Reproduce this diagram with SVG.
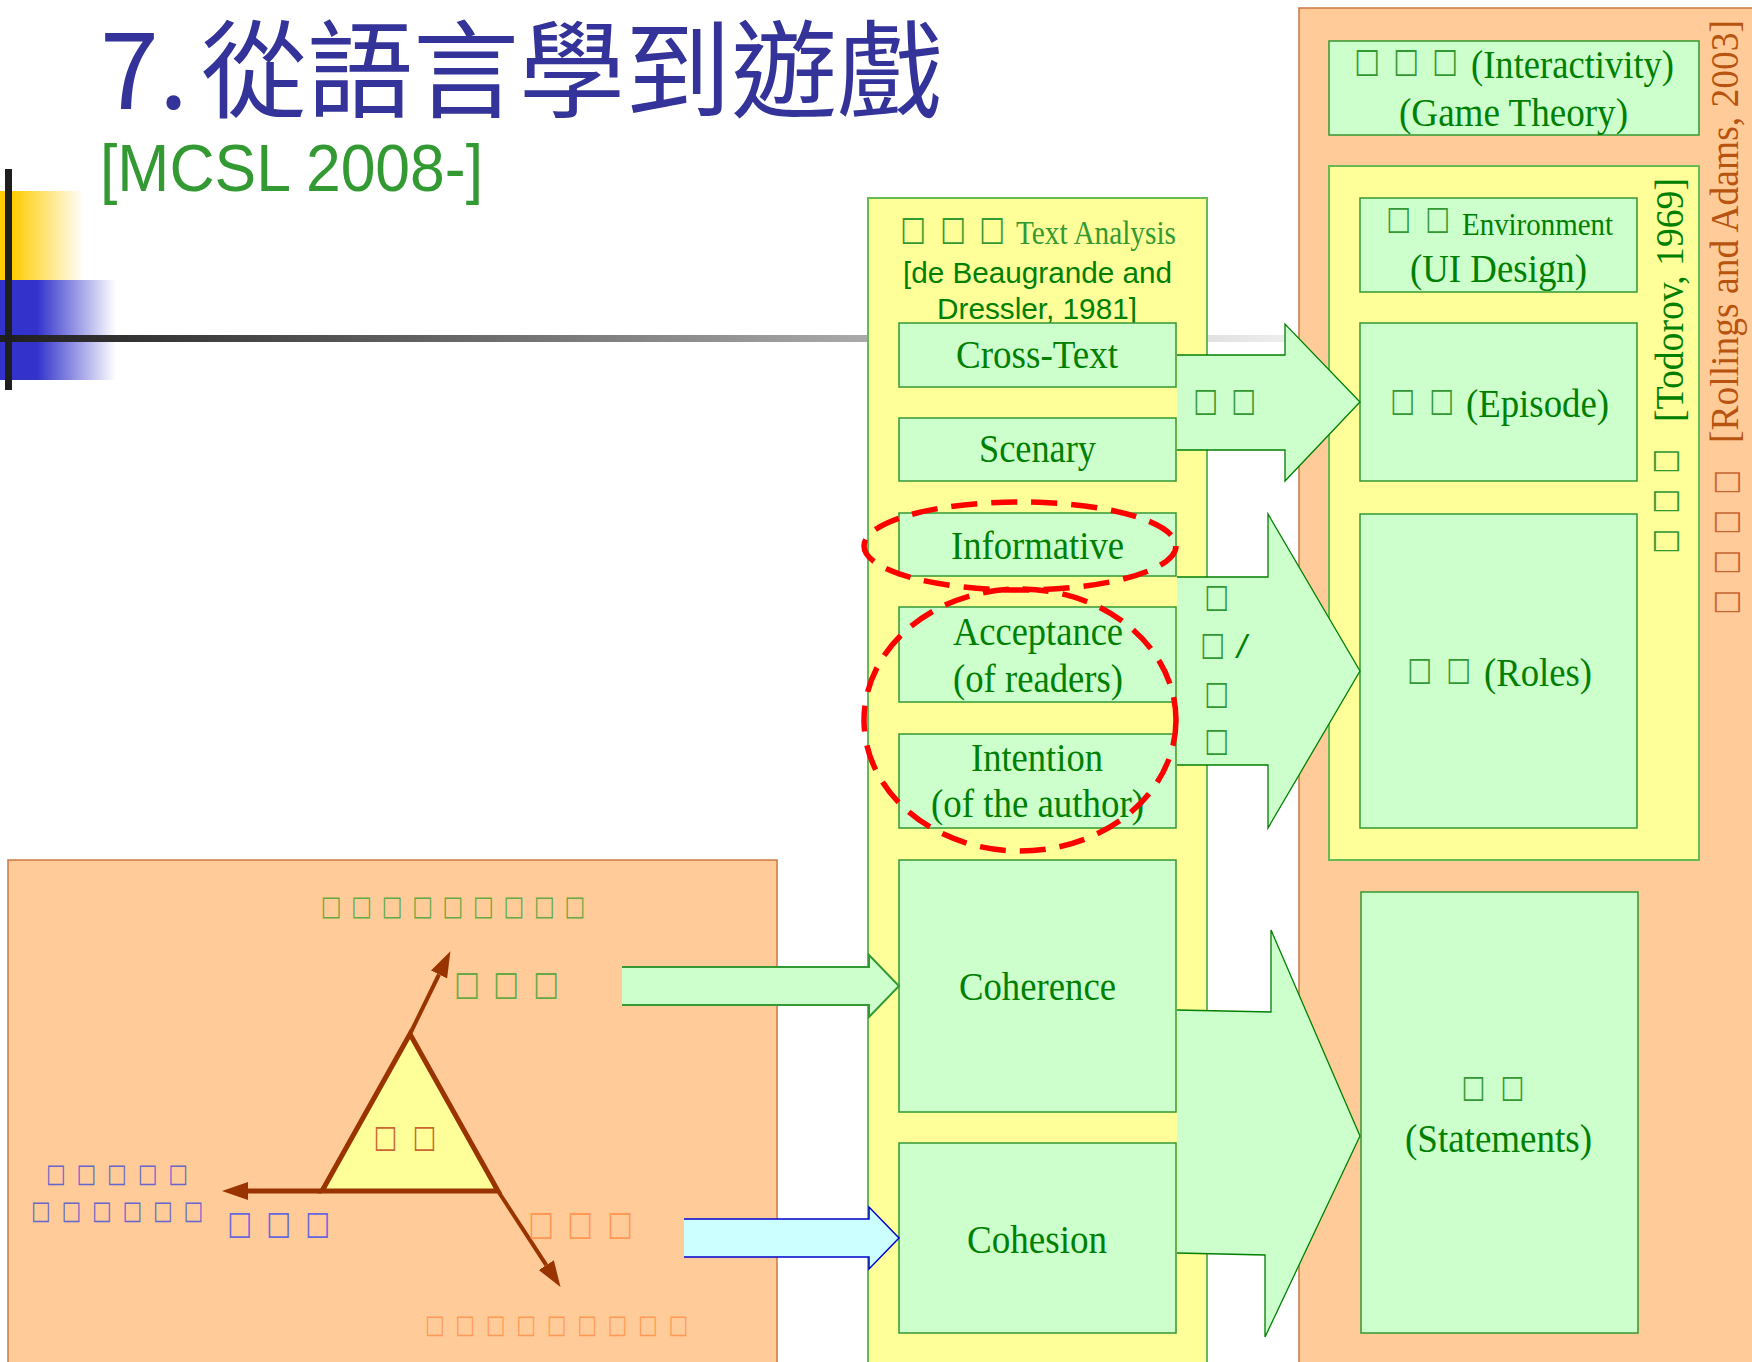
<svg xmlns="http://www.w3.org/2000/svg" width="1752" height="1362" viewBox="0 0 1752 1362">
<defs>
<style>
.ser{font-family:"Liberation Serif","Times New Roman",serif;}
.san{font-family:"Liberation Sans",Arial,sans-serif;}
.tf{font-family:"DejaVu Sans",sans-serif;}
.cjk{font-family:"Noto Sans CJK TC","Noto Sans CJK SC",sans-serif;}
.gbox{fill:#CCFFCC;stroke:#339933;stroke-width:1.5;}
.ycol{fill:#FFFF99;stroke:#66BB55;stroke-width:2;}
.obox{fill:#FFCC99;stroke:#CC7744;stroke-width:1.5;}
.lbl{font-size:40px;fill:#008000;}
.gfill{fill:#CCFFCC;stroke:none;}
.gedge{fill:none;stroke:#008000;stroke-width:1.3;stroke-linejoin:miter;}
.ell{fill:none;stroke:#FF0000;stroke-width:5.5;stroke-dasharray:26 14;}
.brn{stroke:#993300;fill:none;}
</style>
<linearGradient id="gY" gradientUnits="userSpaceOnUse" x1="12" y1="0" x2="84" y2="0">
<stop offset="0" stop-color="#FFCC00"/><stop offset="1" stop-color="#FFFFFF"/>
</linearGradient>
<linearGradient id="gB" gradientUnits="userSpaceOnUse" x1="37" y1="0" x2="116" y2="0">
<stop offset="0" stop-color="#3333CC"/><stop offset="1" stop-color="#FFFFFF"/>
</linearGradient>
<linearGradient id="gL" gradientUnits="userSpaceOnUse" x1="0" y1="0" x2="1300" y2="0">
<stop offset="0" stop-color="#1E1E1E"/><stop offset="1" stop-color="#F0F0F0"/>
</linearGradient>
<marker id="ah" markerUnits="userSpaceOnUse" viewBox="0 0 26 18" markerWidth="26" markerHeight="18" refX="0" refY="9" orient="auto">
<path d="M0,0 L26,9 L0,18 z" fill="#993300"/>
</marker>
</defs>

<rect x="0" y="0" width="1752" height="1362" fill="#FFFFFF"/>

<g id="decoration">
<rect x="0" y="191" width="84" height="89" fill="url(#gY)"/>
<rect x="0" y="280" width="116" height="100" fill="url(#gB)"/>
<rect x="0" y="335" width="1299" height="7" fill="url(#gL)"/>
<rect x="5" y="169" width="7" height="221" fill="#1E1E1E"/>
</g>

<g id="title">
<text class="cjk" x="100" y="109" font-size="106" fill="#333399">7.</text>
<text class="cjk" x="201" y="109" font-size="106" fill="#333399" textLength="742" lengthAdjust="spacingAndGlyphs">從語言學到遊戲</text>
<text class="san" x="100" y="191" font-size="67" fill="#339933" textLength="383" lengthAdjust="spacingAndGlyphs">[MCSL 2008-]</text>
</g>

<g id="text-analysis">
<rect class="ycol" x="868" y="198" width="339" height="1180"/>
<text class="tf" transform="scale(0.8,1)" y="239.9" font-size="34.2" fill="#339933" x="1125.33 1175.33 1224.08">□□□</text>
<text class="ser" x="1016" y="244" font-size="34" fill="#339933" textLength="160" lengthAdjust="spacingAndGlyphs">Text Analysis</text>
<text class="san" x="903" y="283" font-size="30" fill="#008000" textLength="269" lengthAdjust="spacingAndGlyphs">[de Beaugrande and</text>
<text class="san" x="937" y="319" font-size="30" fill="#008000" textLength="200" lengthAdjust="spacingAndGlyphs">Dressler, 1981]</text>
</g>

<g id="cross-text"><rect class="gbox" x="899" y="323" width="277" height="64"/>
<text class="ser lbl" x="956" y="368" textLength="162" lengthAdjust="spacingAndGlyphs">Cross-Text</text></g>
<g id="scenary"><rect class="gbox" x="899" y="418" width="277" height="63"/>
<text class="ser lbl" x="979" y="462" textLength="117" lengthAdjust="spacingAndGlyphs">Scenary</text></g>
<g id="informative"><rect class="gbox" x="899" y="513" width="277" height="63"/>
<text class="ser lbl" x="951" y="559" textLength="173" lengthAdjust="spacingAndGlyphs">Informative</text></g>
<g id="acceptance"><rect class="gbox" x="899" y="607" width="277" height="95"/>
<text class="ser lbl" x="953" y="645" textLength="170" lengthAdjust="spacingAndGlyphs">Acceptance</text>
<text class="ser lbl" x="953" y="692" textLength="170" lengthAdjust="spacingAndGlyphs">(of readers)</text></g>
<g id="intention"><rect class="gbox" x="899" y="734" width="277" height="94"/>
<text class="ser lbl" x="971" y="771" textLength="132" lengthAdjust="spacingAndGlyphs">Intention</text>
<text class="ser lbl" x="931" y="817" textLength="213" lengthAdjust="spacingAndGlyphs">(of the author)</text></g>
<g id="coherence"><rect class="gbox" x="899" y="860" width="277" height="252"/>
<text class="ser lbl" x="959" y="1000" textLength="157" lengthAdjust="spacingAndGlyphs">Coherence</text></g>
<g id="cohesion"><rect class="gbox" x="899" y="1143" width="277" height="190"/>
<text class="ser lbl" x="967" y="1253" textLength="140" lengthAdjust="spacingAndGlyphs">Cohesion</text></g>

<g id="game-frame">
<rect class="obox" x="1299" y="8" width="470" height="1370"/>
<g transform="translate(1727,620) rotate(-90) scale(0.8,1)">
<text class="tf" y="9" font-size="32.9" fill="#CC6633" x="6.71 56.71 106.71 156.71">□□□□</text>
</g>
<g transform="translate(1738,620) rotate(-90)">
<text class="ser" x="177" y="0" font-size="40" fill="#B85410" textLength="423" lengthAdjust="spacingAndGlyphs">[Rollings and Adams, 2003]</text>
</g>
</g>

<g id="interactivity"><rect class="gbox" x="1329" y="41" width="370" height="94"/>
<text class="tf" transform="scale(0.8,1)" y="71.9" font-size="34.2" fill="#339933" x="1692.83 1741.58 1790.33">□□□</text>
<text class="ser lbl" x="1471" y="78" textLength="203" lengthAdjust="spacingAndGlyphs">(Interactivity)</text>
<text class="ser lbl" x="1399" y="126" textLength="229" lengthAdjust="spacingAndGlyphs">(Game Theory)</text></g>

<g id="narrative-frame">
<rect class="ycol" x="1329" y="166" width="370" height="694"/>
<g transform="translate(1666,555) rotate(-90) scale(0.8,1)">
<text class="tf" y="9" font-size="32.9" fill="#339933" x="1.71 51.71 101.71">□□□</text>
</g>
<g transform="translate(1683,555) rotate(-90)">
<text class="ser" x="133" y="0" font-size="40" fill="#008000" textLength="244" lengthAdjust="spacingAndGlyphs">[Todorov, 1969]</text>
</g>
</g>

<g id="environment"><rect class="gbox" x="1360" y="198" width="277" height="94"/>
<text class="tf" transform="scale(0.8,1)" y="229" font-size="32.9" fill="#339933" x="1732.96 1781.71">□□</text>
<text class="ser" x="1462" y="235" font-size="32" fill="#008000" textLength="151" lengthAdjust="spacingAndGlyphs">Environment</text>
<text class="ser lbl" x="1410" y="282" textLength="177" lengthAdjust="spacingAndGlyphs">(UI Design)</text></g>

<g id="episode"><rect class="gbox" x="1360" y="323" width="277" height="158"/>
<text class="tf" transform="scale(0.8,1)" y="411" font-size="32.9" fill="#339933" x="1737.96 1786.71">□□</text>
<text class="ser lbl" x="1466" y="417" textLength="143" lengthAdjust="spacingAndGlyphs">(Episode)</text></g>

<g id="roles"><rect class="gbox" x="1360" y="514" width="277" height="314"/>
<text class="tf" transform="scale(0.8,1)" y="680" font-size="32.9" fill="#339933" x="1759.21 1807.96">□□</text>
<text class="ser lbl" x="1484" y="686" textLength="108" lengthAdjust="spacingAndGlyphs">(Roles)</text></g>

<g id="statements"><rect class="gbox" x="1361" y="892" width="277" height="441"/>
<text class="tf" transform="scale(0.8,1)" y="1097.2" font-size="31.5" fill="#339933" x="1826.85 1875.6">□□</text>
<text class="ser lbl" x="1405" y="1152" textLength="187" lengthAdjust="spacingAndGlyphs">(Statements)</text></g>

<g id="triangle-panel">
<rect class="obox" x="8" y="860" width="769" height="520"/>
<text class="tf" transform="scale(0.8,1)" y="915.5" font-size="27.4" fill="#66AA44" x="401.01 439.07 477.14 515.2 553.26 591.32 629.39 667.45 705.51">□□□□□□□□□</text>
<text class="tf" transform="scale(0.8,1)" y="994.9" font-size="34.2" fill="#66AA44" x="567.83 616.58 666.58">□□□</text>
<polygon points="410,1034 322,1191 498,1191" fill="#FFFF99" stroke="#993300" stroke-width="5" stroke-linejoin="miter"/>
<text class="tf" transform="scale(0.8,1)" y="1147.2" font-size="31.5" fill="#CC6633" x="466.85 515.6">□□</text>
<line class="brn" x1="410" y1="1034" x2="439" y2="974.5" stroke-width="4" marker-end="url(#ah)"/>
<line class="brn" x1="322" y1="1191" x2="248" y2="1191" stroke-width="5" marker-end="url(#ah)"/>
<line class="brn" x1="498" y1="1191" x2="546.3" y2="1265.1" stroke-width="4" marker-end="url(#ah)"/>
<text class="tf" transform="scale(0.8,1)" y="1181.7" font-size="26" fill="#6666CC" x="57.4 95.65 133.9 172.15 210.4">□□□□□</text>
<text class="tf" transform="scale(0.8,1)" y="1218.7" font-size="26" fill="#6666CC" x="38.65 76.78 114.9 153.03 191.15 229.28">□□□□□□</text>
<text class="tf" transform="scale(0.8,1)" y="1234" font-size="32.9" fill="#6666DD" x="284.21 332.96 381.71">□□□</text>
<text class="tf" transform="scale(0.8,1)" y="1234.9" font-size="34.2" fill="#FF9955" x="660.33 709.08 759.08">□□□</text>
<text class="tf" transform="scale(0.8,1)" y="1332.7" font-size="26" fill="#FF9955" x="531.15 569.21 607.28 645.34 683.4 721.46 759.53 797.59 835.65">□□□□□□□□□</text>
</g>

<g id="connectors">
<g id="arrow-episode">
<polygon class="gfill" points="1177,355 1285,355 1285,324 1360,402 1285,481 1285,450 1177,450"/>
<polyline class="gedge" points="1177,355 1285,355 1285,324 1360,402 1285,481 1285,450 1177,450"/>
<text class="tf" transform="scale(0.8,1)" y="411" font-size="32.9" fill="#339933" x="1491.71 1539.21">□□</text>
</g>
<g id="arrow-roles">
<polygon class="gfill" points="1177,577 1268,577 1268,514 1360,671 1268,828 1268,765 1177,765"/>
<polyline class="gedge" points="1177,577 1268,577 1268,514 1360,671 1268,828 1268,765 1177,765"/>
<text class="tf" transform="scale(0.8,1)" y="607" font-size="32.9" fill="#339933" x="1505.46">□</text>
<text class="tf" transform="scale(0.8,1)" y="655" font-size="32.9" fill="#339933" x="1500.46">□</text>
<text class="san" x="1237" y="658" font-size="34" fill="#008000" font-style="italic">/</text>
<text class="tf" transform="scale(0.8,1)" y="704" font-size="32.9" fill="#339933" x="1505.46">□</text>
<text class="tf" transform="scale(0.8,1)" y="751" font-size="32.9" fill="#339933" x="1505.46">□</text>
</g>
<g id="arrow-statements">
<polygon class="gfill" points="1177,1010 1271,1012 1271,930 1360,1136 1265,1337 1265,1255 1177,1253"/>
<polyline class="gedge" points="1177,1010 1271,1012 1271,930 1360,1136 1265,1337 1265,1255 1177,1253"/>
</g>
<g id="arrow-coherence">
<polygon points="622,967 869,967 869,955 899,986 869,1017 869,1005 622,1005" fill="#CCFFCC"/>
<polyline points="622,967 869,967 869,955 899,986 869,1017 869,1005 622,1005" fill="none" stroke="#339933" stroke-width="2"/>
</g>
<g id="arrow-cohesion">
<polygon points="684,1219 869,1219 869,1207 899,1238 869,1269 869,1257 684,1257" fill="#CCFFFF"/>
<polyline points="684,1219 869,1219 869,1207 899,1238 869,1269 869,1257 684,1257" fill="none" stroke="#0000CC" stroke-width="1.5"/>
</g>
</g>

<g id="highlights">
<ellipse class="ell" cx="1020" cy="546" rx="156" ry="44"/>
<ellipse class="ell" cx="1020" cy="720" rx="156" ry="131"/>
</g>
</svg>
